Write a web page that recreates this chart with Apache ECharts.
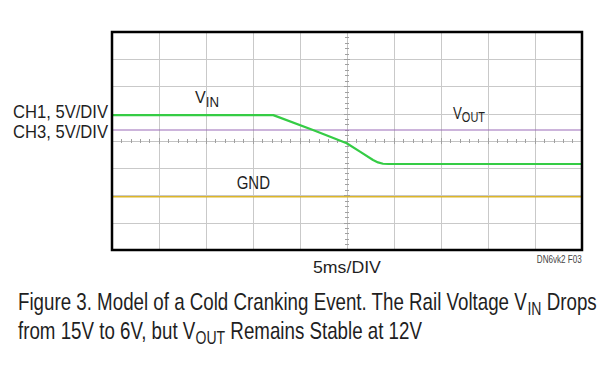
<!DOCTYPE html>
<html>
<head>
<meta charset="utf-8">
<script src="https://cdn.jsdelivr.net/npm/echarts@6/dist/echarts.min.js"></script>
<style>
html,body{margin:0;padding:0;background:#fff;}
#c{width:614px;height:368px;}
</style>
</head>
<body>
<div id="c"></div>
<script>
// ---- data ----
var timeMs   = [0, 17.16, 21.38, 24.97, 26.38, 27.77, 28.3, 28.83, 29.4, 50];   // ms
var vinV     = [15.0, 15.0, 12.27, 9.83, 8.29, 6.76, 6.32, 6.08, 6.03, 6.03];   // V (CH1)
var voutTime = [0, 50];
var voutV    = [12.27, 12.27];   // V (CH3)
var gndTime  = [0, 50];
var gndV     = [0, 0];
var xTicks   = [0, 5, 10, 15, 20, 25, 30, 35, 40, 45, 50];  // 5 ms/div
var divisions = [0, 1, 2, 3, 4, 5, 6, 7, 8];                 // vertical divisions

function pairs(xs, ys){ return xs.map(function(x,i){ return [x, ys[i]]; }); }

var FONT = "'Liberation Sans', Arial, Helvetica, sans-serif";
var ctx = document.createElement('canvas').getContext('2d');
function mw(str, size){ ctx.font = size + 'px ' + FONT; return ctx.measureText(str).width; }
function fit(pieces, target){ var w = 0; pieces.forEach(function(p){ w += mw(p[0], p[1]); }); return target / w; }

var chart = echarts.init(document.getElementById('c'), null, {renderer:'svg'});
var GL = 112, GT = 32, GW = 470, GH = 218;
var INK = '#1f1f1f';

function label(txt, size, x, y, align, target, color){
  return {type:'text', x:x, y:y, scaleX:fit([[txt,size]], target), z:100,
    style:{x:0, y:0, text:txt, align:align, verticalAlign:'middle', fontFamily:FONT, fontSize:size, fill:color||INK}};
}
function subLabel(main, sub, size, subSize, subPad, x, top, target){
  return {type:'text', x:x, y:top, scaleX:fit([[main,size],[sub,subSize]], target), z:100,
    style:{x:0, y:0, text:'{v|'+main+'}{s|'+sub+'}', align:'left', verticalAlign:'top',
      rich:{v:{fontSize:size, fontFamily:FONT, fill:INK, verticalAlign:'top', lineHeight:size},
            s:{fontSize:subSize, fontFamily:FONT, fill:INK, verticalAlign:'top', lineHeight:subSize, padding:[subPad,0,0,0]}}}};
}
var CF = 24, CS = 18;
var cap1 = ['Figure 3. Model of a Cold Cranking Event. The Rail Voltage V', 'IN', ' Drops'];
var cap2 = ['from 15V to 6V, but V', 'OUT', ' Remains Stable at 12V'];
var capScale = fit([[cap1[0],CF],[cap1[1],CS],[cap1[2],CF]], 579);
function caption(parts, x, top){
  return {type:'text', x:x, y:top, scaleX:capScale, z:100,
    style:{x:0, y:0, text:'{n|'+parts[0]+'}{s|'+parts[1]+'}{n|'+parts[2]+'}', align:'left', verticalAlign:'top',
      rich:{n:{fontSize:CF, fontFamily:FONT, fill:INK, verticalAlign:'top', lineHeight:CF},
            s:{fontSize:CS, fontFamily:FONT, fill:INK, verticalAlign:'top', lineHeight:CS, padding:[9,0,0,0]}}}};
}

var option = {
  animation:false,
  backgroundColor:'#ffffff',
  grid:{left:GL, top:GT, width:GW, height:GH, show:true, borderColor:'#000', borderWidth:2, backgroundColor:'rgba(0,0,0,0)'},
  xAxis:[
    {type:'value', min:xTicks[0], max:xTicks[xTicks.length-1], interval:5,
     axisLine:{show:false}, axisTick:{show:false}, axisLabel:{show:false},
     splitLine:{show:true, showMinLine:false, showMaxLine:false, lineStyle:{color:'#c9c9c9', width:1}}},
    {type:'value', min:0, max:50, interval:5, position:'bottom', offset:-GH/2,
     axisLine:{show:true, lineStyle:{color:'#c4c4c4', width:1}},
     axisTick:{show:true, inside:true, length:3, lineStyle:{color:'#a0a0a0'}},
     minorTick:{show:true, splitNumber:5, length:2, lineStyle:{color:'#a0a0a0'}},
     axisLabel:{show:false}, splitLine:{show:false}},
    {type:'value', min:0, max:50, interval:5, position:'bottom', offset:-GH/2,
     axisLine:{show:false},
     axisTick:{show:true, inside:false, length:3, lineStyle:{color:'#a0a0a0'}},
     minorTick:{show:true, splitNumber:5, length:2, lineStyle:{color:'#a0a0a0'}},
     axisLabel:{show:false}, splitLine:{show:false}}
  ],
  yAxis:[
    {type:'value', min:divisions[0], max:divisions[divisions.length-1], interval:1,
     axisLine:{show:false}, axisTick:{show:false}, axisLabel:{show:false},
     splitLine:{show:true, showMinLine:false, showMaxLine:false, lineStyle:{color:'#c9c9c9', width:1}}},
    {type:'value', min:-9.75, max:30.25,
     axisLine:{show:false}, axisTick:{show:false}, axisLabel:{show:false}, splitLine:{show:false}},
    {type:'value', min:0, max:8, interval:1, position:'left', offset:-GW/2,
     axisLine:{show:true, lineStyle:{color:'#c4c4c4', width:1}},
     axisTick:{show:true, inside:true, length:3, lineStyle:{color:'#a0a0a0'}},
     minorTick:{show:true, splitNumber:5, length:2, lineStyle:{color:'#a0a0a0'}},
     axisLabel:{show:false}, splitLine:{show:false}},
    {type:'value', min:0, max:8, interval:1, position:'left', offset:-GW/2,
     axisLine:{show:false},
     axisTick:{show:true, inside:false, length:3, lineStyle:{color:'#a0a0a0'}},
     minorTick:{show:true, splitNumber:5, length:2, lineStyle:{color:'#a0a0a0'}},
     axisLabel:{show:false}, splitLine:{show:false}}
  ],
  series:[
    {name:'GND', type:'line', xAxisIndex:0, yAxisIndex:1, data:pairs(gndTime, gndV),
     showSymbol:false, lineStyle:{color:'#dcb52a', width:1.5}, z:3},
    {name:'VOUT', type:'line', xAxisIndex:0, yAxisIndex:1, data:pairs(voutTime, voutV),
     showSymbol:false, lineStyle:{color:'#9a6bb8', width:1.2}, z:4},
    {name:'VIN', type:'line', xAxisIndex:0, yAxisIndex:1, data:pairs(timeMs, vinV),
     showSymbol:false, lineStyle:{color:'#35cc45', width:2.2}, z:5}
  ],
  graphic:[
    {type:'rect', z:90, silent:true, shape:{x:GL, y:GT, width:GW, height:GH},
     style:{fill:'transparent', stroke:'#000000', lineWidth:2.5}},
    label('CH1, 5V/DIV', 18, 108, 111.5, 'right', 95),
    label('CH3, 5V/DIV', 18, 108, 131.5, 'right', 95),
    subLabel('V', 'IN', 17, 14, 7, 195, 88.8, 24),
    subLabel('V', 'OUT', 17, 14, 6, 453, 104.8, 32),
    label('GND', 18, 236.7, 183.5, 'left', 33.3),
    label('5ms/DIV', 17, 313, 267, 'left', 68),
    label('DN6vk2 F03', 10, 581.7, 259.5, 'right', 45, '#444'),
    caption(cap1, 18, 290),
    caption(cap2, 18, 319)
  ]
};
chart.setOption(option);
</script>
</body>
</html>
